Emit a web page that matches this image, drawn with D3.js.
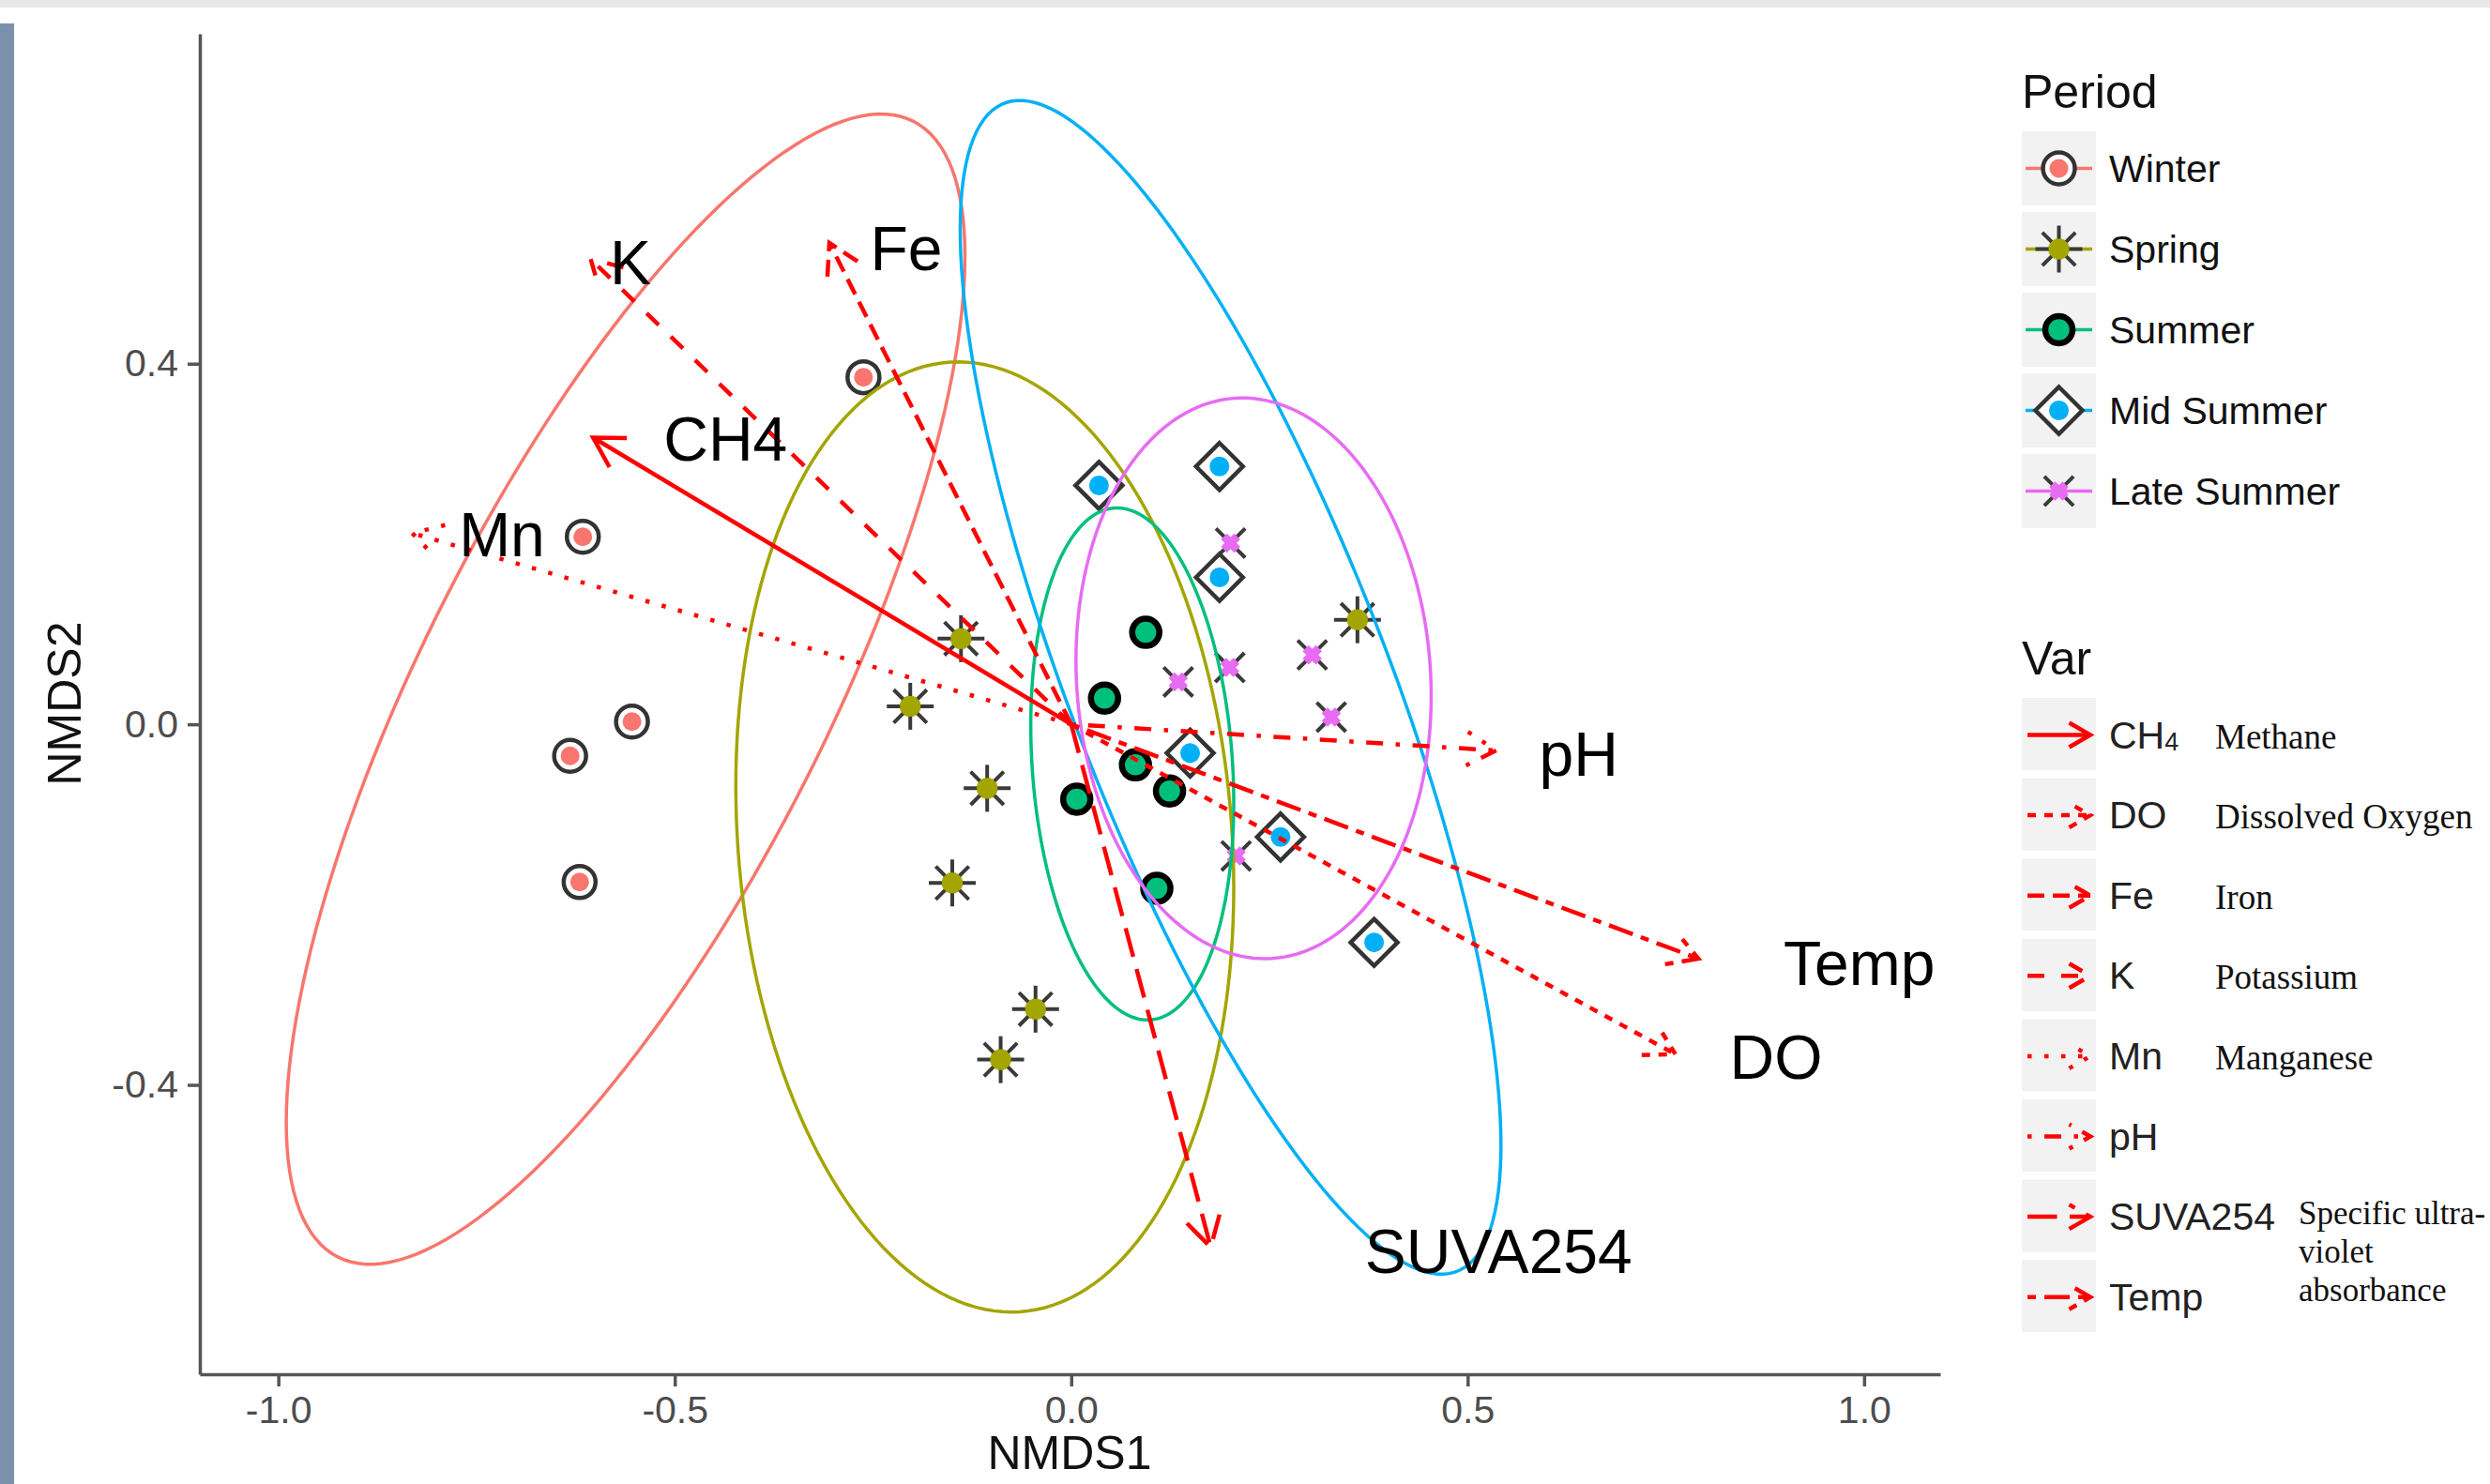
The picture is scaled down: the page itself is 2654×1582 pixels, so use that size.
<!DOCTYPE html>
<html>
<head>
<meta charset="utf-8">
<script src="https://cdn.jsdelivr.net/npm/d3@7"></script>
<style>
  body { margin: 0; background: #fff; }
  svg { display: block; font-family: "Liberation Sans", Arial, sans-serif; }
</style>
</head>
<body>
<svg id="chart" width="2654" height="1582"></svg>
<script>
// Periods and the default ggplot hue colours
const periods = ["Winter", "Spring", "Summer", "Mid Summer", "Late Summer"];
const periodColors = ["#F8766D", "#A3A500", "#00BF7D", "#00B0F6", "#E76BF3"];

// Site scores (NMDS1, NMDS2)
const winterX = [-0.262, -0.616, -0.554, -0.632, -0.620];
const winterY = [0.385, 0.208, 0.003, -0.035, -0.175];
const springX = [-0.139, -0.203, -0.106, -0.150, -0.045, -0.089, 0.361];
const springY = [0.095, 0.020, -0.071, -0.176, -0.316, -0.372, 0.116];
const summerX = [0.094, 0.042, 0.081, 0.124, 0.007, 0.108];
const summerY = [0.102, 0.029, -0.045, -0.074, -0.083, -0.182];
const midSummerX = [0.035, 0.187, 0.187, 0.150, 0.264, 0.382];
const midSummerY = [0.265, 0.286, 0.163, -0.032, -0.125, -0.242];
const lateSummerX = [0.201, 0.135, 0.200, 0.304, 0.328, 0.208];
const lateSummerY = [0.201, 0.047, 0.063, 0.077, 0.008, -0.146];

// 95% ellipses per period: centre, x / y half extents, correlation
const ellipseCx = [-0.562, -0.109, 0.077, 0.201, 0.230];
const ellipseCy = [0.039, -0.125, -0.044, 0.041, 0.051];
const ellipseRx = [0.428, 0.314, 0.128, 0.341, 0.224];
const ellipseRy = [0.638, 0.527, 0.284, 0.651, 0.311];
const ellipseR = [0.753, -0.107, -0.15, -0.78, -0.063];

// Environmental vectors (arrow tips) and their label positions
const vars = ["CH4", "DO", "Fe", "K", "Mn", "pH", "SUVA254", "Temp"];
const varX = [-0.603, 0.762, -0.305, -0.606, -0.831, 0.536, 0.176, 0.791];
const varY = [0.318, -0.366, 0.534, 0.516, 0.212, -0.029, -0.580, -0.260];
const varLty = ["solid", "22", "42", "44", "13", "1343", "73", "2262"];
const labelX = [-0.436, 0.889, -0.208, -0.556, -0.718, 0.640, 0.539, 0.994];
const labelY = [0.317, -0.368, 0.529, 0.513, 0.211, -0.032, -0.584, -0.264];
const varDesc = ["Methane", "Dissolved Oxygen", "Iron", "Potassium", "Manganese", "", "", ""];
const suvaDesc = ["Specific ultra-", "violet", "absorbance"];

const xTicks = [-1, -0.5, 0, 0.5, 1];
const yTicks = [-0.4, 0, 0.4];

const pointsX = [winterX, springX, summerX, midSummerX, lateSummerX];
const pointsY = [winterY, springY, summerY, midSummerY, lateSummerY];

const svg = d3.select("#chart");
const LW = 4.5;

// page decorations from the screenshot
svg.append("rect").attr("x", 0).attr("y", 0).attr("width", 2654).attr("height", 8).attr("fill", "#e8e8e8");
svg.append("rect").attr("x", 0).attr("y", 25).attr("width", 15).attr("height", 1557).attr("fill", "#7b91ab");

const x = d3.scaleLinear().domain([-1.099, 1.096]).range([213, 2068]);
const y = d3.scaleLinear().domain([-0.721, 0.766]).range([1465, 36]);

function styleAxis(g) {
    g.select(".domain").attr("stroke", "#555").attr("stroke-width", 3.5);
    g.selectAll(".tick line").attr("stroke", "#555").attr("stroke-width", 3.5);
    g.selectAll(".tick text").attr("fill", "#4d4d4d").attr("font-size", 41)
        .attr("font-family", "Liberation Sans, Arial, sans-serif");
}

svg.append("g")
    .attr("transform", "translate(0,1465)")
    .call(d3.axisBottom(x).tickValues(xTicks).tickFormat(d => d.toFixed(1))
        .tickSize(13).tickSizeOuter(0).tickPadding(10))
    .call(styleAxis);

svg.append("g")
    .attr("transform", "translate(213,0)")
    .call(d3.axisLeft(y).tickValues(yTicks).tickFormat(d => d.toFixed(1))
        .tickSize(13).tickSizeOuter(0).tickPadding(10))
    .call(styleAxis);

svg.append("text").attr("x", 1140).attr("y", 1566).attr("text-anchor", "middle")
    .attr("font-size", 50).attr("fill", "#111").text("NMDS1");
svg.append("text").attr("transform", "translate(86,750) rotate(-90)").attr("text-anchor", "middle")
    .attr("font-size", 50).attr("fill", "#111").text("NMDS2");

// markers
function spokes(sel, cx, cy, r, angles, color, w) {
    angles.forEach(a => {
        const rad = a * Math.PI / 180;
        sel.append("line")
            .attr("x1", cx - r * Math.cos(rad)).attr("y1", cy - r * Math.sin(rad))
            .attr("x2", cx + r * Math.cos(rad)).attr("y2", cy + r * Math.sin(rad))
            .attr("stroke", color).attr("stroke-width", w);
    });
}

function drawMarker(sel, i, cx, cy) {
    const col = periodColors[i];
    if (i === 0) {
        sel.append("circle").attr("cx", cx).attr("cy", cy).attr("r", 17)
            .attr("fill", "#fff").attr("stroke", "#333").attr("stroke-width", 4.5);
        sel.append("circle").attr("cx", cx).attr("cy", cy).attr("r", 10).attr("fill", col);
    } else if (i === 1) {
        spokes(sel, cx, cy, 25, [0, 45, 90, 135], "#3a3a3a", 4);
        spokes(sel, cx, cy, 11, [0, 45, 90, 135], col, 8);
    } else if (i === 2) {
        sel.append("circle").attr("cx", cx).attr("cy", cy).attr("r", 14.5)
            .attr("fill", col).attr("stroke", "#000").attr("stroke-width", 6.5);
    } else if (i === 3) {
        const h = 25;
        sel.append("path").attr("d", `M${cx},${cy - h}L${cx + h},${cy}L${cx},${cy + h}L${cx - h},${cy}Z`)
            .attr("fill", "#fff").attr("stroke", "#333").attr("stroke-width", 4.5);
        sel.append("circle").attr("cx", cx).attr("cy", cy).attr("r", 10.5).attr("fill", col);
    } else {
        spokes(sel, cx, cy, 22, [45, 135], "#3a3a3a", 4);
        spokes(sel, cx, cy, 10, [45, 135], col, 9);
    }
}

const pointLayer = svg.append("g");
periods.forEach((p, i) => {
    pointsX[i].forEach((v, k) => drawMarker(pointLayer, i, x(v), y(pointsY[i][k])));
});

// ellipses
const line = d3.line().curve(d3.curveLinearClosed);
const ts = d3.range(0, 2 * Math.PI, Math.PI / 90);
svg.append("g").selectAll("path")
    .data(periods)
    .join("path")
    .attr("d", (d, i) => line(ts.map(t => {
        const r = ellipseR[i];
        return [x(ellipseCx[i] + ellipseRx[i] * Math.cos(t)),
                y(ellipseCy[i] + ellipseRy[i] * (r * Math.cos(t) + Math.sqrt(1 - r * r) * Math.sin(t)))];
    })))
    .attr("fill", "none")
    .attr("stroke", (d, i) => periodColors[i])
    .attr("stroke-width", 3.5);

// arrows
function dashFor(code, lw) {
    if (code === "solid") return null;
    return code.split("").map(c => parseInt(c, 16) * lw).join(" ");
}

function headPath(x0, y0, x1, y1, len) {
    const a = Math.atan2(y1 - y0, x1 - x0);
    const p1 = [x1 - len * Math.cos(a - Math.PI / 6), y1 - len * Math.sin(a - Math.PI / 6)];
    const p2 = [x1 - len * Math.cos(a + Math.PI / 6), y1 - len * Math.sin(a + Math.PI / 6)];
    return `M${p1[0]},${p1[1]}L${x1},${y1}L${p2[0]},${p2[1]}`;
}

const arrowLayer = svg.append("g").attr("fill", "none").attr("stroke", "#ff0000")
    .attr("stroke-width", LW);
vars.forEach((v, i) => {
    const x0 = x(0), y0 = y(0), x1 = x(varX[i]), y1 = y(varY[i]);
    arrowLayer.append("line").attr("x1", x0).attr("y1", y0).attr("x2", x1).attr("y2", y1)
        .attr("stroke-dasharray", dashFor(varLty[i], LW));
    arrowLayer.append("path").attr("d", headPath(x0, y0, x1, y1, 36))
        .attr("stroke-dasharray", dashFor(varLty[i], LW));
});

svg.append("g").selectAll("text")
    .data(vars)
    .join("text")
    .attr("x", (d, i) => x(labelX[i]))
    .attr("y", (d, i) => y(labelY[i]))
    .attr("dy", "0.36em")
    .attr("text-anchor", "middle")
    .attr("font-size", 66)
    .attr("fill", "#000")
    .text(d => d);

// legends
const legX = 2155, keySize = 79;
const leg = svg.append("g");
leg.append("text").attr("x", legX).attr("y", 115).attr("font-size", 50).attr("fill", "#111").text("Period");
periods.forEach((p, i) => {
    const top = 140 + i * 86, cy = top + keySize / 2, cx = legX + keySize / 2;
    leg.append("rect").attr("x", legX).attr("y", top).attr("width", keySize).attr("height", keySize).attr("fill", "#f2f2f2");
    leg.append("line").attr("x1", legX + 4).attr("x2", legX + keySize - 4).attr("y1", cy).attr("y2", cy)
        .attr("stroke", periodColors[i]).attr("stroke-width", 3.5);
    drawMarker(leg, i, cx, cy);
    leg.append("text").attr("x", 2248).attr("y", cy + 14).attr("font-size", 41).attr("fill", "#111").text(p);
});

leg.append("text").attr("x", legX).attr("y", 719).attr("font-size", 50).attr("fill", "#111").text("Var");
vars.forEach((v, i) => {
    const top = 744 + i * 85.6, cy = top + keySize / 2;
    leg.append("rect").attr("x", legX).attr("y", top).attr("width", keySize).attr("height", keySize - 2).attr("fill", "#f2f2f2");
    const x0 = legX + 6, x1 = legX + keySize - 6;
    leg.append("line").attr("x1", x0).attr("x2", x1).attr("y1", cy).attr("y2", cy)
        .attr("stroke", "#ff0000").attr("stroke-width", LW).attr("stroke-dasharray", dashFor(varLty[i], LW));
    leg.append("path").attr("d", headPath(x0, cy, x1, cy, 26)).attr("fill", "none")
        .attr("stroke", "#ff0000").attr("stroke-width", LW).attr("stroke-dasharray", dashFor(varLty[i], LW));
    const t = leg.append("text").attr("x", 2248).attr("y", cy + 14).attr("font-size", 41).attr("fill", "#222");
    if (v === "CH4") {
        t.text("CH");
        t.append("tspan").attr("font-size", 27).attr("dy", 2).text("4");
    } else {
        t.text(v);
    }
    if (varDesc[i]) {
        leg.append("text").attr("x", 2361).attr("y", cy + 14).attr("font-size", 37)
            .attr("font-family", "Liberation Serif, Times New Roman, serif").attr("fill", "#111").text(varDesc[i]);
    }
    if (v === "SUVA254") {
        suvaDesc.forEach((s, k) => {
            leg.append("text").attr("x", 2450).attr("y", cy + 8 + k * 41).attr("font-size", 35)
                .attr("font-family", "Liberation Serif, Times New Roman, serif").attr("fill", "#111").text(s);
        });
    }
});
</script>
</body>
</html>
